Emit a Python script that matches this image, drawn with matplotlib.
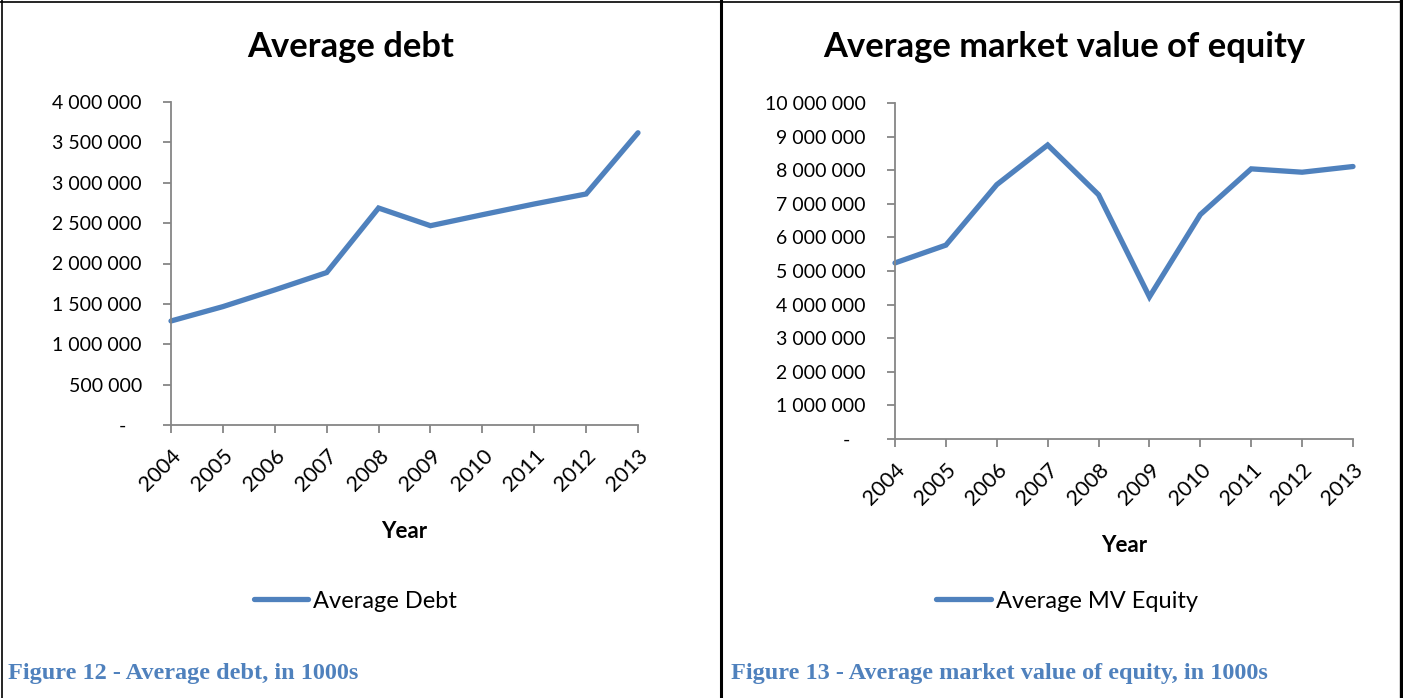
"""Average debt and average market value of equity, 2004-2013 (in 1000s)."""
import matplotlib
matplotlib.use('Agg')
import matplotlib.pyplot as plt
from matplotlib.lines import Line2D
from matplotlib.ticker import FuncFormatter, MultipleLocator

years = [2004, 2005, 2006, 2007, 2008, 2009, 2010, 2011, 2012, 2013]
avg_debt = [1288000, 1466000, 1673000, 1888000, 2687000, 2468000,
            2604000, 2737000, 2861000, 3619000]
avg_mv_equity = [5240000, 5770000, 7570000, 8750000, 7270000, 4230000,
                 6680000, 8040000, 7940000, 8110000]

BLUE = '#4F81BD'
AXIS_GREY = '#868686'
W, H = 1403, 698

plt.rcParams['font.family'] = ['Lato', 'DejaVu Sans']


def thousands(v, _pos):
    if v == 0:
        return '-   '
    return f'{int(v):,}'.replace(',', ' ')


def px_axes(fig, x0, x1, ytop, ybot):
    return fig.add_axes([x0 / W, 1 - ybot / H, (x1 - x0) / W, (ybot - ytop) / H])


def style_axis(ax, ymax, step):
    ax.set_xlim(years[0], years[-1])
    ax.set_ylim(0, ymax)
    ax.yaxis.set_major_locator(MultipleLocator(step))
    ax.yaxis.set_major_formatter(FuncFormatter(thousands))
    ax.set_xticks(years)
    ax.set_xticklabels([str(y) for y in years], rotation=45, ha='right',
                       rotation_mode='anchor', fontsize=15.5)
    for lab in ax.get_yticklabels():
        lab.set_fontsize(14)
    for side in ('top', 'right'):
        ax.spines[side].set_visible(False)
    for side in ('left', 'bottom'):
        ax.spines[side].set_color(AXIS_GREY)
        ax.spines[side].set_linewidth(1.3)
    ax.tick_params(axis='both', direction='out', length=6, width=1.3,
                   color=AXIS_GREY)
    ax.tick_params(axis='y', pad=15)
    ax.tick_params(axis='x', pad=9)
    ax.set_xlabel('Year', fontweight='bold', fontsize=16, labelpad=19)


fig = plt.figure(figsize=(W / 100, H / 100), dpi=100)

# --- left panel: average debt ---
ax1 = px_axes(fig, 171, 638, 102, 425)
ax1.plot(years, avg_debt, color=BLUE, lw=3.8, solid_capstyle='round',
         solid_joinstyle='miter', clip_on=False)
style_axis(ax1, 4000000, 500000)
fig.text(351 / W, 1 - 47 / H, 'Average debt', ha='center', va='center',
         fontsize=24.8, fontweight='bold')
ax1.legend(handles=[Line2D([], [], color=BLUE, lw=3.8, solid_capstyle='round')],
           labels=['Average Debt'], loc='center', frameon=False, fontsize=17,
           handlelength=2.3, handletextpad=0.2,
           bbox_to_anchor=(355 / W, 1 - 601 / H), bbox_transform=fig.transFigure)

# --- right panel: average market value of equity ---
ax2 = px_axes(fig, 895, 1353, 103, 439)
ax2.plot(years, avg_mv_equity, color=BLUE, lw=3.8, solid_capstyle='round',
         solid_joinstyle='miter', clip_on=False)
style_axis(ax2, 10000000, 1000000)
fig.text(1064 / W, 1 - 47 / H, 'Average market value of equity', ha='center',
         va='center', fontsize=24.8, fontweight='bold')
ax2.legend(handles=[Line2D([], [], color=BLUE, lw=3.8, solid_capstyle='round')],
           labels=['Average MV Equity'], loc='center', frameon=False, fontsize=17,
           handlelength=2.3, handletextpad=0.2,
           bbox_to_anchor=(1067 / W, 1 - 601 / H), bbox_transform=fig.transFigure)

# figure captions
cap_kw = dict(ha='left', va='center', fontsize=17.5, fontweight='bold',
              color=BLUE, family=['Liberation Serif', 'DejaVu Serif'])
fig.text(8 / W, 1 - 674 / H, 'Figure 12 - Average debt, in 1000s', **cap_kw)
fig.text(731 / W, 1 - 674 / H, 'Figure 13 - Average market value of equity, in 1000s',
         **cap_kw)

# table borders around the two cells
def border(xs, ys, lw):
    fig.add_artist(Line2D([x / W for x in xs], [1 - y / H for y in ys],
                          color='black', lw=lw))

border([0, 1402], [1.5, 1.5], 1.2)
border([2, 2], [0, 698], 1.2)
border([721, 721], [0, 698], 2.2)
border([1401, 1401], [0, 698], 2.4)

fig.savefig('out.png', dpi=100)
